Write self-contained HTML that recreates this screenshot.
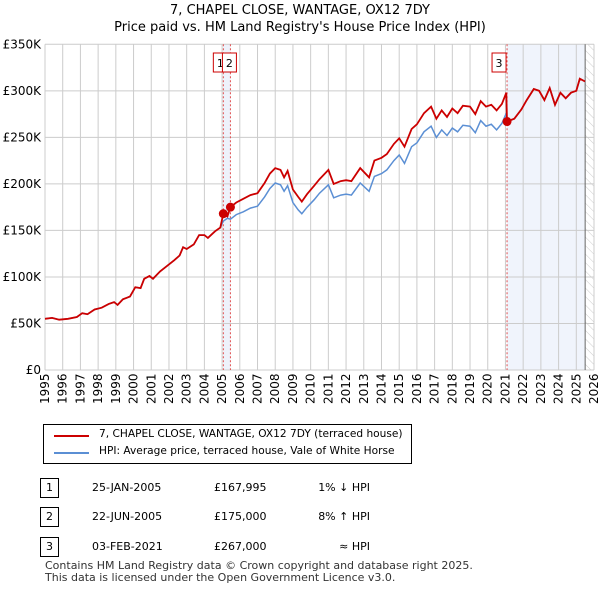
<!DOCTYPE html>
<html><head><meta charset="utf-8"><style>
body{margin:0;background:#fff;font-family:"DejaVu Sans",sans-serif;}
#wrap{position:relative;width:600px;height:590px;overflow:hidden;}
.t{position:absolute;font-size:12px;color:#000;white-space:nowrap;}
</style></head><body><div id="wrap">
<svg id="chart" width="600" height="410" style="position:absolute;left:0;top:0"></svg>
<div class="t" style="left:0;width:600px;text-align:center;top:3px;font-size:13px">7, CHAPEL CLOSE, WANTAGE, OX12 7DY</div>
<div class="t" style="left:0;width:600px;text-align:center;top:20px;font-size:13px">Price paid vs. HM Land Registry's House Price Index (HPI)</div>
<div style="position:absolute;left:43px;top:424px;width:367px;height:38px;border:1px solid #000">
 <div style="position:absolute;left:10px;top:10px;width:35px;height:2px;background:#cc0000"></div>
 <div class="t" style="left:55px;top:3px;font-size:10.6px">7, CHAPEL CLOSE, WANTAGE, OX12 7DY (terraced house)</div>
 <div style="position:absolute;left:10px;top:27px;width:35px;height:2px;background:#5b8fd4"></div>
 <div class="t" style="left:55px;top:20px;font-size:10.6px">HPI: Average price, terraced house, Vale of White Horse</div>
</div>
<div id="rows"></div>
<div class="t" style="left:45px;top:559px;font-size:11px;color:#333">Contains HM Land Registry data © Crown copyright and database right 2025.</div>
<div class="t" style="left:45px;top:571px;font-size:11px;color:#333">This data is licensed under the Open Government Licence v3.0.</div>
</div>
<script>
const dates=[1995.0,1995.4,1995.8,1996.3,1996.8,1997.1,1997.4,1997.8,1998.2,1998.6,1998.9,1999.1,1999.4,1999.8,2000.1,2000.4,2000.6,2000.9,2001.1,2001.5,2001.9,2002.3,2002.6,2002.8,2003.0,2003.4,2003.7,2004.0,2004.2,2004.6,2004.9,2005.07,2005.3,2005.47,2005.8,2006.2,2006.6,2007.0,2007.4,2007.7,2008.0,2008.3,2008.5,2008.7,2009.0,2009.3,2009.5,2009.8,2010.2,2010.5,2011.0,2011.3,2011.7,2012.0,2012.3,2012.8,2013.3,2013.6,2014.0,2014.3,2014.7,2015.0,2015.3,2015.7,2016.0,2016.4,2016.8,2017.1,2017.4,2017.7,2018.0,2018.3,2018.6,2019.0,2019.3,2019.6,2019.9,2020.2,2020.5,2020.8,2021.05,2021.09,2021.5,2021.9,2022.2,2022.6,2022.9,2023.2,2023.5,2023.8,2024.1,2024.4,2024.7,2025.0,2025.2,2025.5];
const hpiValues=[55,56,54,55,57,61,60,65,67,71,73,70,76,79,89,88,98,101,98,106,112,118,123,132,130,135,145,145,142,149,153,160,163,162,167,170,174,176,186,195,201,199,192,198,180,172,168,175,183,190,199,185,188,189,188,201,192,208,211,215,225,231,222,240,244,256,262,250,258,252,260,256,263,262,255,268,262,264,258,265,276,267,270,280,290,302,300,290,303,285,298,292,298,300,313,310];
const paidValues=[55,56,54,55,57,61,60,65,67,71,73,70,76,79,89,88,98,101,98,106,112,118,123,132,130,135,145,145,142,149,153,168,165,175,180,184,188,190,201,211,217,215,207,214,194,186,181,189,198,205,215,200,203,204,203,217,207,225,228,232,243,249,240,259,264,276,283,270,279,272,281,276,284,283,275,289,283,285,279,286,298,267,270,280,290,302,300,290,303,285,298,292,298,300,313,310];
const saleDates=[2005.07,2005.47,2021.09];
const salePrices=[168,175,267];
const saleLabels=['1','2','3'];
const yTicks=[0,50,100,150,200,250,300,350];
const yTickLabels=['£0','£50K','£100K','£150K','£200K','£250K','£300K','£350K'];
const years=[];for(let y=1995;y<=2026;y++)years.push(y);
const rowDates=['25-JAN-2005','22-JUN-2005','03-FEB-2021'];
const rowPrices=['£167,995','£175,000','£267,000'];
const rowHpi=['1% ↓ HPI','8% ↑ HPI','≈ HPI'];

const X0=45,X1=594,Y0=370,Y1=44.3;
const xs=d=>X0+(d-1995)/(2026-1995)*(X1-X0);
const ys=v=>Y0-v/350*(Y0-Y1);
const svg=document.getElementById('chart');
const NS='http://www.w3.org/2000/svg';
const FF='DejaVu Sans, sans-serif';
function mk(tag,at){const e=document.createElementNS(NS,tag);for(const k in at)e.setAttribute(k,at[k]);svg.appendChild(e);return e;}
const defs=mk('defs',{});
defs.innerHTML='<pattern id="hatch" width="6" height="6" patternUnits="userSpaceOnUse" patternTransform="rotate(-45)"><line x1="0" y1="0" x2="0" y2="6" stroke="#ccc" stroke-width="1"/></pattern>';
let e;
e=mk('rect',{x:xs(2005.07),y:Y1,width:xs(2005.47)-xs(2005.07),height:Y0-Y1,fill:'#eef2fb'});

e=mk('rect',{x:xs(2021.09),y:Y1,width:xs(2025.5)-xs(2021.09),height:Y0-Y1,fill:'#f0f4fc'});

e=mk('rect',{x:xs(2025.5),y:Y1,width:X1-xs(2025.5),height:Y0-Y1,fill:'url(#hatch)'});

years.forEach(y=>{
 e=mk('line',{x1:xs(y),x2:xs(y),y1:Y1,y2:Y0,stroke:'#ccc','stroke-width':1});
 
 const t=mk('text',{x:0,y:0,transform:`translate(${xs(y)+4},${Y0+34}) rotate(-90)`,'font-size':12,fill:'#000','font-family':FF});
 t.textContent=y;
});
yTicks.forEach((v,i)=>{
 e=mk('line',{x1:X0,x2:X1,y1:ys(v),y2:ys(v),stroke:'#ccc','stroke-width':1});
 
 const t=mk('text',{x:X0-4,y:ys(v)+4,'text-anchor':'end','font-size':12,fill:'#000','font-family':FF});
 t.textContent=yTickLabels[i];
});
e=mk('line',{x1:xs(2025.5),x2:xs(2025.5),y1:Y1,y2:Y0,stroke:'#666','stroke-width':1});

saleDates.forEach((d,i)=>{
 e=mk('line',{x1:xs(d),x2:xs(d),y1:Y1,y2:Y0,stroke:'#e05050','stroke-width':1,'stroke-dasharray':'2,2'});
 
});
const path=(vals)=>dates.map((d,i)=>(i?'L':'M')+xs(d).toFixed(1)+','+ys(vals[i]).toFixed(1)).join('');
e=mk('path',{d:path(hpiValues),fill:'none',stroke:'#5b8fd4','stroke-width':1.5});

e=mk('path',{d:path(paidValues),fill:'none',stroke:'#cc0000','stroke-width':1.8});

saleDates.forEach((d,i)=>{
 e=mk('circle',{cx:xs(d),cy:ys(salePrices[i]),r:4.5,fill:'#cc0000'});
 
});
const boxX=[xs(2005.07)-10,xs(2005.47)-8,xs(2021.09)-15];
saleLabels.forEach((l,i)=>{
 e=mk('rect',{x:boxX[i],y:53,width:14,height:19,fill:'#fff',stroke:'#cc0000','stroke-width':1});
 
 const t=mk('text',{x:boxX[i]+7,y:67,'text-anchor':'middle','font-size':11,fill:'#000','font-family':FF});
 t.textContent=l;
});
const rows=document.getElementById('rows');
const rowY=[478,507,537];
saleLabels.forEach((l,i)=>{
 const r=document.createElement('div');
 
 
 r.innerHTML=`<div style="position:absolute;left:40px;top:${rowY[i]}px;width:17px;height:18px;border:1px solid #000;font-size:11px;text-align:center;line-height:18px">${l}</div>
 <div class="t" style="left:92px;top:${rowY[i]+3}px;font-size:11px">${rowDates[i]}</div>
 <div class="t" style="left:214px;top:${rowY[i]+3}px;font-size:11px">${rowPrices[i]}</div>
 <div class="t" style="left:300px;width:70px;text-align:right;top:${rowY[i]+3}px;font-size:11px">${rowHpi[i]}</div>`;
 rows.appendChild(r);
});
</script></body></html>
